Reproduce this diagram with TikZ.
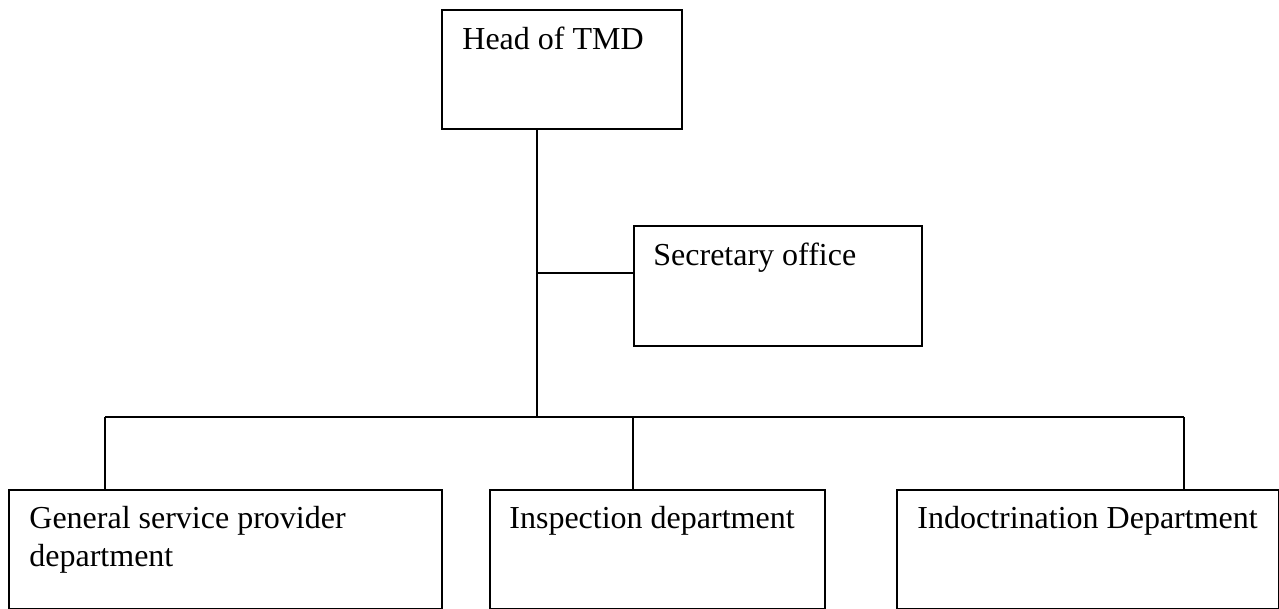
\documentclass[tikz,border=0pt]{standalone}
\usepackage{fontspec}
\setmainfont{Liberation Serif}
\usepackage{tikz}
\usetikzlibrary{calc}
\usetikzlibrary{positioning}

\begin{document}
\begin{tikzpicture}[
  x=0.5pt, y=-0.5pt,
  orgbox/.style = {draw, line width=1pt, inner sep=0pt, anchor=north west, minimum height=59.5pt},
  boxtext/.style = {anchor=base west, inner sep=0pt, align=left, font=\fontsize{16}{19}\selectfont},
  link/.style = {line width=0.9pt}
  ]
	\useasboundingbox (0,0) rectangle (1279,609);

	% boxes
	\node[orgbox, minimum width=120pt] (head) at (441,9) {};
	\node[orgbox, minimum width=144pt, minimum height=60pt] (sec) at (633,225) {};
	\node[orgbox, minimum width=216.5pt] (gen) at (8,489) {};
	\node[orgbox, minimum width=167.5pt] (insp) at (489,489) {};
	\node[orgbox, minimum width=191pt] (indoc) at (896,489) {};

	% texts (base of a two line node is its last line)
	\node[boxtext] (head-t) at ($(head.north west)+(21,41)$) {Head of TMD};
	\node[boxtext] (sec-t) at ($(sec.north west)+(20,40)$) {Secretary office};
	\node[boxtext] (gen-t) at ($(gen.north west)+(21,77)$) {General service provider\\department};
	\node[boxtext] (insp-t) at ($(insp.north west)+(20,39)$) {Inspection department};
	\node[boxtext] (indoc-t) at ($(indoc.north west)+(21,39)$) {Indoctrination Department};

	\coordinate (hub) at (537,273);
	\coordinate (split) at (537,417);
	\coordinate (@1) at (105,417);
	\coordinate (@2) at (633,417);
	\coordinate (@3) at (1184,417);

	% connectors
	\draw[link] (head.south -| hub) -- (split);
	\draw[link] (hub) -- (hub -| sec.west);
	\draw[link] (@1) -- (@3);
	\draw[link] (@1) -- (@1 |- gen.north);
	\draw[link] (@2) -- (@2 |- insp.north);
	\draw[link] (@3) -- (@3 |- indoc.north);

\end{tikzpicture}
\end{document}
